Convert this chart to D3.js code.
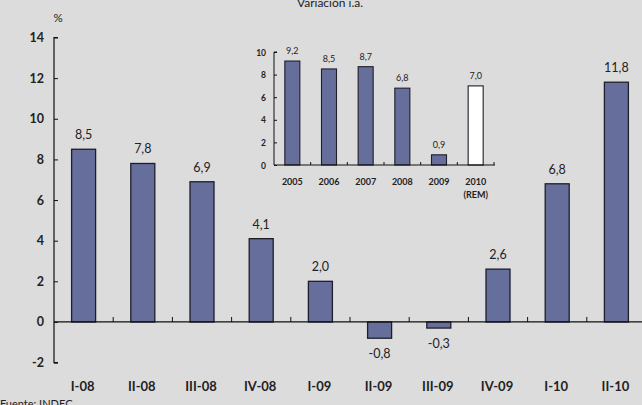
<!DOCTYPE html>
<html>
<head>
<meta charset="utf-8">
<script src="https://cdn.jsdelivr.net/npm/d3@7"></script>
<style>
  html, body { margin: 0; padding: 0; background: #dcdcdc; }
  svg { display: block; font-family: Lato, "Open Sans", sans-serif; }
</style>
</head>
<body>
<svg id="chart" width="642" height="405"></svg>
<script>
// Quarterly year-over-year variation (%)
const quarters = ["I-08", "II-08", "III-08", "IV-08", "I-09", "II-09", "III-09", "IV-09", "I-10", "II-10"];
const quarterValues = [8.5, 7.8, 6.9, 4.1, 2.0, -0.8, -0.3, 2.6, 6.8, 11.8];
const mainTicks = [-2, 0, 2, 4, 6, 8, 10, 12, 14];

// Annual variation (%), inset
const years = ["2005", "2006", "2007", "2008", "2009", "2010"];
const yearSubLabels = ["", "", "", "", "", "(REM)"];
const yearValues = [9.2, 8.5, 8.7, 6.8, 0.9, 7.0];
const yearEstimate = [false, false, false, false, false, true];
const insetTicks = [0, 2, 4, 6, 8, 10];

const barFill = "#666f9c";
const barStroke = "#1e1e2a";
const fmt = v => d3.format(".1f")(v).replace(".", ",").replace("−", "-");

const svg = d3.select("#chart");

// Title (partly above the top edge)
svg.append("text").attr("x", 330).attr("y", 7).attr("text-anchor", "middle")
  .attr("font-size", 12).attr("fill", "#222").text("Variación i.a.");

// ---------- Main chart ----------
const x = d3.scaleBand().domain(quarters).range([54, 646]).paddingInner(0).paddingOuter(0);
const y = d3.scaleLinear().domain([-2, 14]).range([362.6, 37.5]);
const barW = 24;

const main = svg.append("g");

// Y axis
const yAxis = main.append("g").attr("transform", "translate(54,0)")
  .call(d3.axisRight(y).tickValues(mainTicks).tickSize(4).tickFormat(""));
yAxis.select(".domain").attr("d", `M4,${y(14)}H0V${y(-2)}H4`).attr("stroke", "#111").attr("stroke-width", 1.2);
yAxis.selectAll(".tick line").attr("stroke", "#111");
main.selectAll(".ylab").data(mainTicks).join("text")
  .attr("x", 44).attr("y", d => y(d) + 4.5).attr("text-anchor", "end")
  .attr("font-size", 12.5).attr("font-weight", "bold").attr("fill", "#222")
  .text(d => d);
main.append("text").attr("x", 58).attr("y", 22).attr("text-anchor", "middle")
  .attr("font-size", 11.5).attr("fill", "#222").text("%");

// Bars
main.selectAll(".bar").data(quarterValues).join("rect")
  .attr("x", (d, i) => x(quarters[i]) + x.bandwidth() / 2 - barW / 2)
  .attr("width", barW)
  .attr("y", d => y(Math.max(0, d)))
  .attr("height", d => Math.abs(y(d) - y(0)))
  .attr("fill", barFill).attr("stroke", barStroke).attr("stroke-width", 1.3);

// Zero line with category ticks
const xAxis = main.append("g").attr("transform", `translate(0,${y(0)})`);
xAxis.append("line").attr("x1", 54).attr("x2", 642).attr("y1", 0).attr("y2", 0)
  .attr("stroke", "#111").attr("stroke-width", 1.2);
xAxis.selectAll(".xt").data(quarters.slice(1)).join("line")
  .attr("x1", d => x(d)).attr("x2", d => x(d)).attr("y1", 0).attr("y2", -5)
  .attr("stroke", "#111").attr("stroke-width", 1);

// Category labels
main.selectAll(".xlab").data(quarters).join("text")
  .attr("x", d => x(d) + x.bandwidth() / 2 - 1).attr("y", 391)
  .attr("text-anchor", "middle").attr("font-size", 13).attr("font-weight", "bold").attr("fill", "#222")
  .text(d => d);

// Value labels
main.selectAll(".vlab").data(quarterValues).join("text")
  .attr("x", (d, i) => x(quarters[i]) + x.bandwidth() / 2)
  .attr("y", d => d >= 0 ? y(d) - 10 : y(d) + 20)
  .attr("text-anchor", "middle").attr("font-size", 12.5).attr("fill", "#222")
  .text(fmt);

// ---------- Inset chart ----------
const xi = d3.scaleBand().domain(years).range([274, 494]);
const yi = d3.scaleLinear().domain([0, 10]).range([165, 52]);
const barWi = 15;
const inset = svg.append("g");

const yAxisI = inset.append("g").attr("transform", "translate(274,0)")
  .call(d3.axisRight(yi).tickValues(insetTicks).tickSize(3).tickFormat(""));
yAxisI.select(".domain").attr("d", `M3,${yi(10)}H0V${yi(0)}`).attr("stroke", "#111").attr("stroke-width", 1);
yAxisI.selectAll(".tick line").attr("stroke", "#111");
inset.selectAll(".ylabi").data(insetTicks).join("text")
  .attr("x", 266).attr("y", d => yi(d) + 3.5).attr("text-anchor", "end")
  .attr("font-size", 8.5).attr("font-weight", "bold").attr("fill", "#222")
  .text(d => d);

inset.selectAll(".bari").data(yearValues).join("rect")
  .attr("x", (d, i) => xi(years[i]) + xi.bandwidth() / 2 - barWi / 2)
  .attr("width", barWi)
  .attr("y", d => yi(d))
  .attr("height", d => yi(0) - yi(d))
  .attr("fill", (d, i) => yearEstimate[i] ? "#ffffff" : barFill)
  .attr("stroke", barStroke).attr("stroke-width", 1.1);

const xAxisI = inset.append("g").attr("transform", `translate(0,${yi(0)})`);
xAxisI.append("line").attr("x1", 274).attr("x2", 495).attr("stroke", "#111").attr("stroke-width", 1);
xAxisI.selectAll(".xti").data(years.slice(1).concat(["end"])).join("line")
  .attr("x1", d => d === "end" ? 494 : xi(d)).attr("x2", d => d === "end" ? 494 : xi(d))
  .attr("y1", 0).attr("y2", -3).attr("stroke", "#111").attr("stroke-width", 1);

inset.selectAll(".xlabi").data(years).join("text")
  .attr("x", d => xi(d) + xi.bandwidth() / 2).attr("y", 185)
  .attr("text-anchor", "middle").attr("font-size", 9).attr("font-weight", "bold").attr("fill", "#222")
  .text(d => d);
inset.selectAll(".xsubi").data(yearSubLabels).join("text")
  .attr("x", (d, i) => xi(years[i]) + xi.bandwidth() / 2).attr("y", 198)
  .attr("text-anchor", "middle").attr("font-size", 9).attr("font-weight", "bold").attr("fill", "#222")
  .text(d => d);

inset.selectAll(".vlabi").data(yearValues).join("text")
  .attr("x", (d, i) => xi(years[i]) + xi.bandwidth() / 2)
  .attr("y", d => yi(d) - 7)
  .attr("text-anchor", "middle").attr("font-size", 9).attr("fill", "#222")
  .text(fmt);

// Source
svg.append("text").attr("x", 0).attr("y", 408).attr("font-size", 11).attr("fill", "#222")
  .text("Fuente: INDEC");
</script>
</body>
</html>
